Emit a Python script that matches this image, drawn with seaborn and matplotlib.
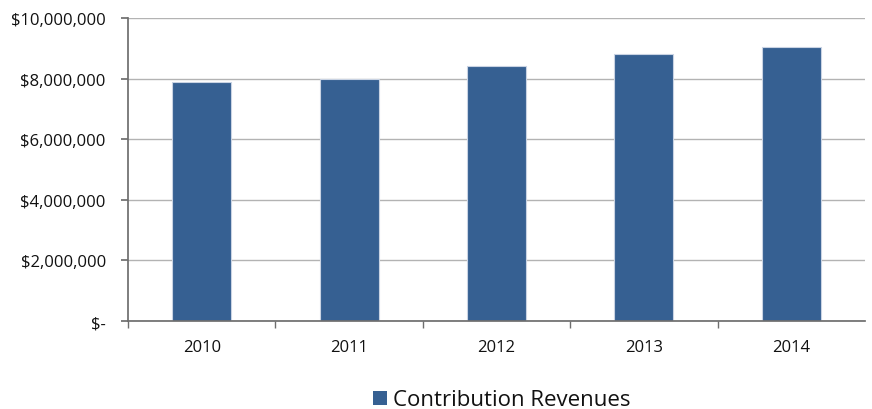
import matplotlib
matplotlib.use("Agg")
import matplotlib.pyplot as plt
import seaborn as sns
import pandas as pd
from matplotlib.patches import Patch
from matplotlib.ticker import FuncFormatter

years = ["2010", "2011", "2012", "2013", "2014"]
revenues = [7880000, 8000000, 8420000, 8810000, 9030000]
series_name = "Contribution Revenues"
yticks = [0, 2000000, 4000000, 6000000, 8000000, 10000000]

df = pd.DataFrame({"Year": years, "Revenue": revenues})

sns.set_theme(style="white")
plt.rcParams["font.family"] = ["Open Sans", "DejaVu Sans"]

bar_color = "#366092"
fig = plt.figure(figsize=(8.72, 4.10), dpi=100)
ax = fig.add_axes([128 / 872, 1 - 322 / 410, (865 - 128) / 872, (322 - 19) / 410])

sns.barplot(data=df, x="Year", y="Revenue", color=bar_color, width=0.4,
            saturation=1, ax=ax, edgecolor="#c9d3e3", linewidth=0.8)

ax.set_ylim(0, 10000000)
ax.set_xlim(-0.5, len(years) - 0.5)
ax.set_yticks(yticks)

def fmt(v, pos):
    if v == 0:
        return "$-"
    return "${:,.0f}".format(v)

ax.yaxis.set_major_formatter(FuncFormatter(fmt))
ax.yaxis.grid(True, color="#b3b3b3", linewidth=1)
ax.set_axisbelow(True)
ax.set_xlabel("")
ax.set_ylabel("")

for s in ["top", "right"]:
    ax.spines[s].set_visible(False)
ax.spines["left"].set_color("#6e6e6e")
ax.spines["bottom"].set_color("#6e6e6e")

ax.tick_params(axis="y", which="major", left=True, length=5, color="#6e6e6e",
               labelsize=12, labelcolor="#111111", pad=11)
ax.set_xticks(range(len(years)))
ax.set_xticklabels(years)
ax.tick_params(axis="x", which="major", bottom=False, labelsize=12,
               labelcolor="#111111", pad=7)
ax.set_xticks([i + 0.5 for i in range(len(years) - 1)] + [-0.5], minor=True)
ax.tick_params(axis="x", which="minor", bottom=True, length=5, color="#6e6e6e")

handles = [Patch(facecolor=bar_color, edgecolor="none", label=series_name)]
fig.legend(handles=handles, loc="center", bbox_to_anchor=(502 / 872, 1 - 401 / 410),
           frameon=False, fontsize=16, handlelength=0.6, handleheight=0.6,
           handletextpad=0.3, labelcolor="#111111")

fig.savefig("out.png", dpi=100)
